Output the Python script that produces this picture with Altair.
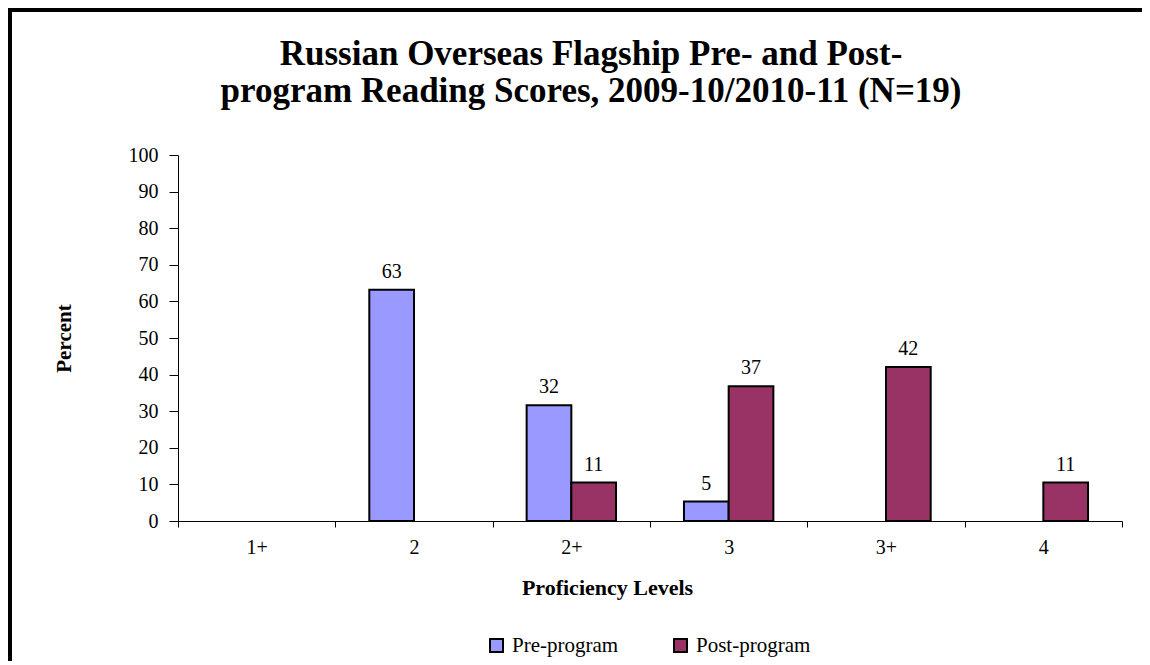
import altair as alt
import pandas as pd

levels = ["1+", "2", "2+", "3", "3+", "4"]
pre_values = [0, 63.2, 31.6, 5.3, 0, 0]
post_values = [0, 0, 10.5, 36.8, 42.1, 10.5]
series = ["Pre-program", "Post-program"]
colors = ["#9999FF", "#993366"]
y_ticks = [0, 10, 20, 30, 40, 50, 60, 70, 80, 90, 100]
title_lines = ["Russian Overseas Flagship Pre- and Post-",
               "program Reading Scores, 2009-10/2010-11 (N=19)"]

rows = []
for i, lv in enumerate(levels):
    rows.append({"level": lv, "series": series[0], "value": pre_values[i]})
    rows.append({"level": lv, "series": series[1], "value": post_values[i]})
df = pd.DataFrame(rows)

FONT = "Liberation Serif"

x = alt.X("level:N", sort=levels,
          scale=alt.Scale(domain=levels, paddingInner=0, paddingOuter=0),
          axis=alt.Axis(title="Proficiency Levels", labelAngle=0, tickBand="extent",
                        tickSize=6, labelPadding=10,
                        labelFont=FONT, labelFontSize=20, titleFont=FONT,
                        titleFontSize=22, titleFontWeight="bold", titleX=429,
                        titleY=66, titleBaseline="middle", titleAlign="center"))
xo = alt.XOffset("series:N", sort=series,
                 scale=alt.Scale(domain=series, paddingInner=0, paddingOuter=0.76))
y = alt.Y("value:Q", scale=alt.Scale(domain=[0, 100], nice=False),
          axis=alt.Axis(values=y_ticks, title="Percent", tickSize=9, labelPadding=11,
                        labelOverlap=False,
                        labelFont=FONT, labelFontSize=20, titleFont=FONT,
                        titleFontSize=21, titleFontWeight="bold",
                        titleX=-114, titleY=183, titleAngle=-90,
                        titleBaseline="middle", titleAlign="center"))
color = alt.Color("series:N", sort=series,
                  scale=alt.Scale(domain=series, range=colors),
                  legend=alt.Legend(orient="none", legendX=308, legendY=480,
                                    direction="horizontal", title=None,
                                    symbolType="square", symbolSize=169,
                                    symbolStrokeColor="black", symbolStrokeWidth=2,
                                    labelFont=FONT, labelFontSize=21, labelColor="black",
                                    columnPadding=51, labelOffset=5))

base = alt.Chart(df).transform_filter(alt.datum.value > 0)

bars = base.mark_bar(stroke="black", strokeWidth=2).encode(
    x=x, xOffset=xo, y=y, color=color)

labels = base.mark_text(baseline="alphabetic", dy=-12, font=FONT, fontSize=20, color="black").encode(
    x=x, xOffset=xo, y=y, text=alt.Text("value:Q", format=".0f"))

border_data = alt.Data(values=[{"k": 1}])
top_border = alt.Chart(border_data).mark_rule(color="black", strokeWidth=4).encode(
    x=alt.value(-170), x2=alt.value(964), y=alt.value(-145), y2=alt.value(-145))
left_border = alt.Chart(border_data).mark_rule(color="black", strokeWidth=4).encode(
    x=alt.value(-168), x2=alt.value(-168), y=alt.value(-147), y2=alt.value(510))

chart = alt.layer(bars, labels, top_border, left_border).properties(
    width=944, height=366,
    autosize=alt.AutoSizeParams(type="none"),
    padding={"left": 170, "top": 147, "right": 20, "bottom": 140},
    title=alt.TitleParams(text=title_lines, font=FONT, fontSize=35, fontWeight="bold",
                          anchor="middle", frame="group", lineHeight=37, dx=-59,
                          color="black", offset=0, dy=103),
).configure_view(stroke=None).configure_axis(
    domainColor="black", tickColor="black", labelColor="black", titleColor="black",
    grid=False, domainWidth=1, tickWidth=1)

chart.save("out.html", embed_options={"renderer": "svg", "actions": False})
